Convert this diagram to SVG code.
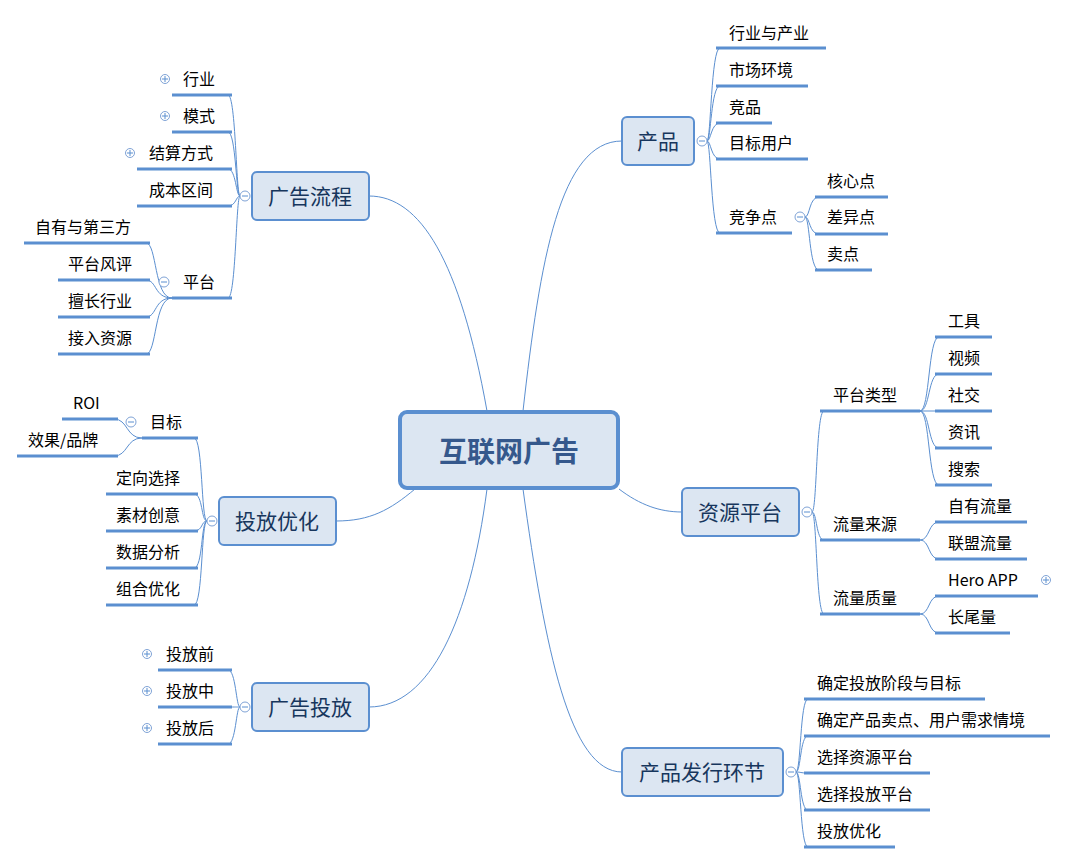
<svg xmlns="http://www.w3.org/2000/svg" width="1068" height="864" viewBox="0 0 1068 864">
<style>
.bg{fill:#fff}
.main rect{fill:#DCE6F2;stroke:#5B8FD0;stroke-width:2}
.main text{font-family:"Noto Sans CJK SC","Microsoft YaHei",sans-serif;font-size:21px;fill:#17365D;text-anchor:middle}
.leaf text{font-family:"Noto Sans CJK SC","Liberation Sans",sans-serif;font-size:16px;fill:#000}
.ul{stroke:#5B8FD0;stroke-width:3}
.c path{fill:none;stroke:#5B8FD0;stroke-width:1}
.tg circle{fill:#fff;stroke:#7FA3D6;stroke-width:1}
.tg path{stroke:#5B8FD0;stroke-width:1;fill:none}
</style>
<rect class="bg" width="1068" height="864"/>
<g id="connectors" class="c">
<path d="M523 411 C540 260 560 141 622 141"/>
<path d="M487 411 C460 260 420 196 369 196"/>
<path d="M415 489 C390 510 370 521 336 521"/>
<path d="M487 489 C470 620 430 707 369 707"/>
<path d="M619 489 C640 505 660 512 682 512"/>
<path d="M523 489 C545 650 570 772 622 772"/>
<path d="M240 196 C236 196 236 95 228 95"/><path d="M240 196 C236 196 236 132 228 132"/><path d="M240 196 C236 196 236 169 228 169"/><path d="M240 196 C236 196 236 206 228 206"/><path d="M240 196 C236 196 236 298 228 298"/>
<path d="M172 298 C154 298 157 243 146 243"/><path d="M172 298 C154 298 157 280 146 280"/><path d="M172 298 C154 298 157 317 146 317"/><path d="M172 298 C154 298 157 354 146 354"/>
<path d="M207 521 C201 521 203 438 194 438"/><path d="M207 521 C201 521 203 494 194 494"/><path d="M207 521 C201 521 203 531 194 531"/><path d="M207 521 C201 521 203 568 194 568"/><path d="M207 521 C201 521 203 605 194 605"/>
<path d="M142 438 C126 438 128 419 114 419"/><path d="M142 438 C126 438 128 456 114 456"/>
<path d="M240 707 C236 707 236 670 228 670"/><path d="M240 707 C236 707 236 707 228 707"/><path d="M240 707 C236 707 236 744 228 744"/>
<path d="M707 141 C711 141 711 48 720 48"/><path d="M707 141 C711 141 711 86 720 86"/><path d="M707 141 C711 141 711 123 720 123"/><path d="M707 141 C711 141 711 159 720 159"/><path d="M707 141 C711 141 711 233 720 233"/>
<path d="M805 217 C810 217 809 197 819 197"/><path d="M805 217 C810 217 809 234 819 234"/><path d="M805 217 C810 217 809 270 819 270"/>
<path d="M812 512 C817 512 816 411 824 411"/><path d="M812 512 C817 512 816 540 824 540"/><path d="M812 512 C817 512 816 614 824 614"/>
<path d="M920 411 C930 411 928 337 939 337"/><path d="M920 411 C930 411 928 374 939 374"/><path d="M920 411 L939 411"/><path d="M920 411 C930 411 928 448 939 448"/><path d="M920 411 C930 411 928 485 939 485"/>
<path d="M920 540 C930 540 928 522 939 522"/><path d="M920 540 C930 540 928 559 939 559"/>
<path d="M920 614 C930 614 928 596 939 596"/><path d="M920 614 C930 614 928 633 939 633"/>
<path d="M796 772 C801 772 800 699 808 699"/><path d="M796 772 C801 772 800 736 808 736"/><path d="M796 772 C801 772 800 773 808 773"/><path d="M796 772 C801 772 800 810 808 810"/><path d="M796 772 C801 772 800 847 808 847"/>
</g>
<g id="center"><rect x="400" y="412" width="218" height="76" rx="7" fill="#DCE6F2" stroke="#5B8FD0" stroke-width="4"/><text x="509" y="462" font-family="Noto Sans CJK SC,sans-serif" font-size="28" font-weight="bold" fill="#35588C" text-anchor="middle">互联网广告</text></g>
<g id="n-liucheng" class="main"><rect x="252" y="172" width="117" height="48" rx="5"/><text x="310" y="204">广告流程</text></g>
<g id="n-youhua" class="main"><rect x="219" y="497" width="117" height="48" rx="5"/><text x="277" y="529">投放优化</text></g>
<g id="n-toufang" class="main"><rect x="252" y="683" width="117" height="48" rx="5"/><text x="310" y="715">广告投放</text></g>
<g id="n-chanpin" class="main"><rect x="622" y="117" width="72" height="48" rx="5"/><text x="658" y="149">产品</text></g>
<g id="n-ziyuan" class="main"><rect x="682" y="488" width="117" height="48" rx="5"/><text x="740" y="520">资源平台</text></g>
<g id="n-faxing" class="main"><rect x="622" y="748" width="161" height="48" rx="5"/><text x="702" y="780">产品发行环节</text></g>
<g id="toggles" class="tg">
<circle cx="245" cy="196" r="5"/><path d="M242 196h6"/>
<circle cx="164" cy="282" r="5"/><path d="M161 282h6"/>
<circle cx="212" cy="521" r="5"/><path d="M209 521h6"/>
<circle cx="131" cy="422" r="5"/><path d="M128 422h6"/>
<circle cx="245" cy="707" r="5"/><path d="M242 707h6"/>
<circle cx="702" cy="141" r="5"/><path d="M699 141h6"/>
<circle cx="800" cy="217" r="5"/><path d="M797 217h6"/>
<circle cx="807" cy="512" r="5"/><path d="M804 512h6"/>
<circle cx="791" cy="772" r="5"/><path d="M788 772h6"/>
<circle cx="165" cy="79" r="4.5"/><path d="M162 79h6M165 76v6"/>
<circle cx="165" cy="116" r="4.5"/><path d="M162 116h6M165 113v6"/>
<circle cx="130" cy="153" r="4.5"/><path d="M127 153h6M130 150v6"/>
<circle cx="147" cy="654" r="4.5"/><path d="M144 654h6M147 651v6"/>
<circle cx="147" cy="691" r="4.5"/><path d="M144 691h6M147 688v6"/>
<circle cx="147" cy="728" r="4.5"/><path d="M144 728h6M147 725v6"/>
<circle cx="1046" cy="580" r="4.5"/><path d="M1043 580h6M1046 577v6"/>
</g>
<g class="leaf">
<g id="l1"><text x="183" y="85">行业</text><path class="ul" d="M172 95H232"/></g>
<g id="l2"><text x="183" y="122">模式</text><path class="ul" d="M172 132H232"/></g>
<g id="l3"><text x="149" y="159">结算方式</text><path class="ul" d="M137 169H232"/></g>
<g id="l4"><text x="149" y="196">成本区间</text><path class="ul" d="M137 206H232"/></g>
<g id="l5"><text x="183" y="288">平台</text><path class="ul" d="M172 298H232"/></g>
<g id="l6"><text x="35" y="233">自有与第三方</text><path class="ul" d="M24 243H150"/></g>
<g id="l7"><text x="68" y="270">平台风评</text><path class="ul" d="M58 280H150"/></g>
<g id="l8"><text x="68" y="307">擅长行业</text><path class="ul" d="M58 317H150"/></g>
<g id="l9"><text x="68" y="344">接入资源</text><path class="ul" d="M58 354H150"/></g>
<g id="l10"><text x="150" y="428">目标</text><path class="ul" d="M142 438H198"/></g>
<g id="l11"><text x="73" y="409" font-family="Liberation Sans,sans-serif">ROI</text><path class="ul" d="M62 419H118"/></g>
<g id="l12"><text x="28" y="446">效果/品牌</text><path class="ul" d="M17 456H118"/></g>
<g id="l13"><text x="116" y="484">定向选择</text><path class="ul" d="M106 494H198"/></g>
<g id="l14"><text x="116" y="521">素材创意</text><path class="ul" d="M106 531H198"/></g>
<g id="l15"><text x="116" y="558">数据分析</text><path class="ul" d="M106 568H198"/></g>
<g id="l16"><text x="116" y="595">组合优化</text><path class="ul" d="M106 605H198"/></g>
<g id="l17"><text x="166" y="660">投放前</text><path class="ul" d="M158 670H232"/></g>
<g id="l18"><text x="166" y="697">投放中</text><path class="ul" d="M158 707H232"/></g>
<g id="l19"><text x="166" y="734">投放后</text><path class="ul" d="M158 744H232"/></g>
<g id="r1"><text x="729" y="39">行业与产业</text><path class="ul" d="M716 48H826"/></g>
<g id="r2"><text x="729" y="76">市场环境</text><path class="ul" d="M716 86H808"/></g>
<g id="r3"><text x="729" y="113">竞品</text><path class="ul" d="M716 123H772"/></g>
<g id="r4"><text x="729" y="149">目标用户</text><path class="ul" d="M716 159H808"/></g>
<g id="r5"><text x="729" y="223">竞争点</text><path class="ul" d="M716 233H792"/></g>
<g id="r6"><text x="827" y="187">核心点</text><path class="ul" d="M815 197H888"/></g>
<g id="r7"><text x="827" y="223">差异点</text><path class="ul" d="M815 234H888"/></g>
<g id="r8"><text x="827" y="260">卖点</text><path class="ul" d="M815 270H872"/></g>
<g id="r9"><text x="833" y="401">平台类型</text><path class="ul" d="M820 411H920"/></g>
<g id="r10"><text x="833" y="530">流量来源</text><path class="ul" d="M820 540H920"/></g>
<g id="r11"><text x="833" y="604">流量质量</text><path class="ul" d="M820 614H920"/></g>
<g id="r12"><text x="948" y="327">工具</text><path class="ul" d="M935 337H992"/></g>
<g id="r13"><text x="948" y="364">视频</text><path class="ul" d="M935 374H992"/></g>
<g id="r14"><text x="948" y="401">社交</text><path class="ul" d="M935 411H992"/></g>
<g id="r15"><text x="948" y="438">资讯</text><path class="ul" d="M935 448H992"/></g>
<g id="r16"><text x="948" y="475">搜索</text><path class="ul" d="M935 485H992"/></g>
<g id="r17"><text x="948" y="512">自有流量</text><path class="ul" d="M935 522H1027"/></g>
<g id="r18"><text x="948" y="549">联盟流量</text><path class="ul" d="M935 559H1027"/></g>
<g id="r19"><text x="948" y="586">Hero APP</text><path class="ul" d="M935 596H1038"/></g>
<g id="r20"><text x="948" y="623">长尾量</text><path class="ul" d="M935 633H1010"/></g>
<g id="r21"><text x="817" y="689">确定投放阶段与目标</text><path class="ul" d="M804 699H985"/></g>
<g id="r22"><text x="817" y="726">确定产品卖点、用户需求情境</text><path class="ul" d="M804 736H1050"/></g>
<g id="r23"><text x="817" y="763">选择资源平台</text><path class="ul" d="M804 773H930"/></g>
<g id="r24"><text x="817" y="800">选择投放平台</text><path class="ul" d="M804 810H930"/></g>
<g id="r25"><text x="817" y="837">投放优化</text><path class="ul" d="M804 847H895"/></g>
</g>
</svg>
